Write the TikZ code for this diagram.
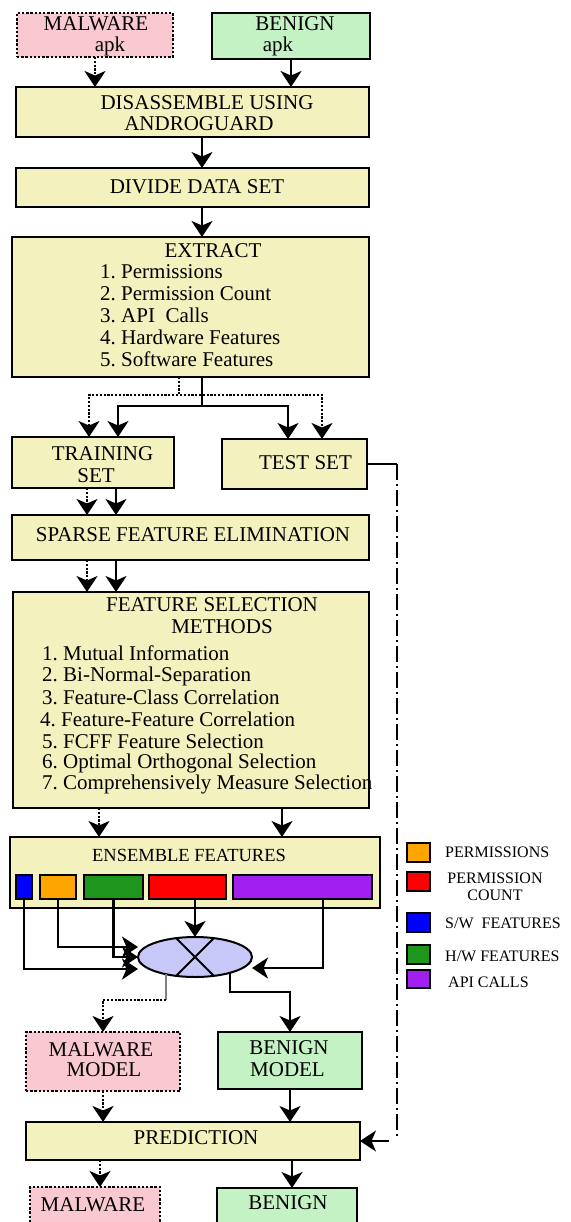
\documentclass[tikz,border=0pt]{standalone}
\usepackage{fontspec}
\setmainfont{Liberation Serif}
\usetikzlibrary{arrows.meta,shapes.geometric,calc}
\definecolor{yel}{RGB}{243,241,189}
\definecolor{pnk}{RGB}{250,200,208}
\definecolor{grn}{RGB}{196,242,196}
\definecolor{lav}{RGB}{200,200,248}
\definecolor{corange}{RGB}{255,165,0}
\definecolor{cred}{RGB}{255,0,0}
\definecolor{cblue}{RGB}{0,0,255}
\definecolor{cgreen}{RGB}{30,150,30}
\definecolor{cpurple}{RGB}{160,32,240}
\newcommand\mf{\fontsize{21}{22}\selectfont}
\newcommand\lf{\fontsize{16}{17}\selectfont}
\newcommand\ef{\fontsize{18.5}{20}\selectfont}
\begin{document}
\begin{tikzpicture}[x=1pt,y=-1pt,
  box/.style={draw, line width=2.2pt, inner sep=0pt, outer sep=0pt},
  ybox/.style={box, fill=yel},
  pbox/.style={box, fill=pnk, dash pattern=on 2.4pt off 1.8pt},
  gbox/.style={box, fill=grn},
  colbox/.style={draw, line width=2pt, inner sep=0pt, outer sep=0pt, minimum height=24pt},
  legbox/.style={draw, line width=1.8pt, inner sep=0pt, minimum width=23pt, minimum height=19pt},
  txt/.style={inner sep=0pt, font=\mf, align=center},
  itm/.style={inner sep=0pt, font=\mf, anchor=west},
  leg/.style={inner sep=0pt, font=\lf, anchor=west},
  arr/.style={line width=2.2pt, -{Stealth[length=16pt,width=21pt,inset=4.5pt]}},
  darr/.style={arr, dash pattern=on 2.2pt off 1.6pt},
  dashdotline/.style={line width=2pt, dash pattern=on 16pt off 4pt on 2pt off 4pt}
]
\useasboundingbox (0,0) rectangle (570,1222);
\fill[white] (0,0) rectangle (570,1222);
\clip (0,0) rectangle (570,1222);

% ---------- boxes ----------
\node[pbox, minimum width=156pt, minimum height=44pt] (mal) at (95,35) {};
\node[gbox, minimum width=158pt, minimum height=46pt] (ben) at (291,36) {};
\node[ybox, minimum width=353pt, minimum height=50pt] (dis) at (192.5,112) {};
\node[ybox, minimum width=353pt, minimum height=39pt] (div) at (192.5,187.5) {};
\node[ybox, minimum width=357pt, minimum height=140pt] (ext) at (190.5,307) {};
\node[ybox, minimum width=162pt, minimum height=51pt] (train) at (93,462.5) {};
\node[ybox, minimum width=145pt, minimum height=50pt] (test) at (294.5,464) {};
\node[ybox, minimum width=357pt, minimum height=45pt] (sparse) at (190.5,537.5) {};
\node[ybox, minimum width=356pt, minimum height=216pt] (fs) at (191,700) {};
\node[ybox, minimum width=370pt, minimum height=71pt] (ens) at (195,872.5) {};
\node[colbox, fill=cblue, minimum width=16pt] (fb) at (24,887) {};
\node[colbox, fill=corange, minimum width=36pt] (fo) at (58,887) {};
\node[colbox, fill=cgreen, minimum width=59pt] (fg) at (113.5,887) {};
\node[colbox, fill=cred, minimum width=77pt] (fr) at (187.5,887) {};
\node[colbox, fill=cpurple, minimum width=139pt] (fp) at (302.5,887) {};
\node[ellipse, draw, line width=2pt, fill=lav, minimum width=114pt, minimum height=40pt, inner sep=0pt, outer sep=0pt] (ell) at (195,957) {};
\draw[line width=2pt] (ell.135) -- (ell.315) (ell.45) -- (ell.225);
\node[pbox, minimum width=154pt, minimum height=59pt] (mm) at (103,1061.5) {};
\node[gbox, minimum width=144pt, minimum height=57pt] (bm) at (290,1060.5) {};
\node[ybox, minimum width=334pt, minimum height=38pt] (pred) at (193,1141) {};
\node[pbox, minimum width=130pt, minimum height=39pt] (mout) at (95,1206.5) {};
\node[gbox, minimum width=140pt, minimum height=38pt] (bout) at (287,1207) {};

% ---------- texts ----------
\node[txt] (tmal1) at (96,24) {MALWARE};
\node[txt] (tmal2) at (110,46) {apk};
\node[txt] (tben1) at (295,24) {BENIGN};
\node[txt] (tben2) at (278,46) {apk};
\node[txt] (tdis1) at (207,103) {DISASSEMBLE USING};
\node[txt] (tdis2) at (199,124) {ANDROGUARD};
\node[txt] (tdiv) at (197,187) {DIVIDE DATA SET};
\node[txt] (text0) at (213,251) {EXTRACT};
\node[itm] (text1) at (100,272) {1.\ Permissions};
\node[itm] (text2) at (100,294) {2.\ Permission Count};
\node[itm] (text3) at (100,315) {3.\ API\ \ Calls};
\node[itm] (text4) at (100,337) {4.\ Hardware Features};
\node[itm] (text5) at (100,359) {5.\ Software Features};
\node[txt] (ttrain1) at (102.5,454) {TRAINING};
\node[txt] (ttrain2) at (96,476) {SET};
\node[txt] (ttest) at (305.5,463) {TEST SET};
\node[txt] (tsparse) at (193,535) {SPARSE FEATURE ELIMINATION};
\node[txt] (tfs1) at (212,605) {FEATURE SELECTION};
\node[txt] (tfs2) at (222,627) {METHODS};
\node[itm] (tfsa) at (42,653) {1.\ Mutual Information};
\node[itm] (tfsb) at (42,676) {2.\ Bi-Normal-Separation};
\node[itm] (tfsc) at (42,697) {3.\ Feature-Class Correlation};
\node[itm] (tfsd) at (40,719) {4.\ Feature-Feature Correlation};
\node[itm] (tfse) at (42,741) {5.\ FCFF Feature Selection};
\node[itm] (tfsf) at (42,763) {6.\ Optimal Orthogonal Selection};
\node[itm] (tfsg) at (42,784) {7.\ Comprehensively Measure Selection};
\node[txt, font=\ef] (tens) at (189,855) {ENSEMBLE FEATURES};
\node[txt] (tmm1) at (101,1050) {MALWARE};
\node[txt] (tmm2) at (104,1070) {MODEL};
\node[txt] (tbm1) at (289,1048) {BENIGN};
\node[txt] (tbm2) at (287.5,1070) {MODEL};
\node[txt] (tpred) at (196,1138) {PREDICTION};
\node[txt] (tmout) at (93,1205) {MALWARE};
\node[txt] (tbout) at (288,1203) {BENIGN};

% ---------- legend ----------
\node[legbox, fill=corange] (lo) at (418.5,852.5) {};
\node[legbox, fill=cred] (lr) at (418.5,881.5) {};
\node[legbox, fill=cblue] (lb) at (418.5,922.5) {};
\node[legbox, fill=cgreen] (lg) at (418.5,954.5) {};
\node[legbox, fill=cpurple, minimum height=18pt] (lp) at (418.5,979) {};
\node[leg] (tlo) at (445,852) {PERMISSIONS};
\node[inner sep=0pt, font=\lf, align=center] (tlr) at (495,886.5) {PERMISSION\\COUNT};
\node[leg] (tlb) at (445,923) {S/W\ \ FEATURES};
\node[leg] (tlg) at (445,956) {H/W FEATURES};
\node[leg] (tlp) at (448,982) {API CALLS};

% ---------- guide coordinates ----------
\coordinate (xA) at (202,0);
\coordinate (xD) at (179,0);
\coordinate (jT1) at (118,406);
\coordinate (jT2) at (288,406);
\coordinate (jD1) at (89,395);
\coordinate (jD2) at (322,395);
\coordinate (xs1) at (87,0);
\coordinate (xs2) at (116,0);
\coordinate (xf1) at (99,0);
\coordinate (xf2) at (282,0);
\coordinate (xP) at (323,0);
\coordinate (g1) at (166,1000);
\coordinate (b1) at (0,992);
\coordinate (xM) at (100,0);
\coordinate (xB) at (292,0);
\coordinate (tc) at (397,464);

% ---------- connectors ----------
\draw[darr] (mal.south) -- (mal.south |- dis.north);
\draw[arr] (ben.south) -- (ben.south |- dis.north);
\draw[arr] (dis.south -| xA) -- (div.north -| xA);
\draw[arr] (div.south -| xA) -- (ext.north -| xA);
\draw[arr] (ext.south -| xA) |- (jT1) -- (jT1 |- train.north);
\draw[arr] (ext.south -| xA) |- (jT2) -- (jT2 |- test.north);
\draw[darr] (ext.south -| xD) |- (jD1) -- (jD1 |- train.north);
\draw[darr] (ext.south -| xD) |- (jD2) -- (jD2 |- test.north);
\draw[darr] (train.south -| xs1) -- (sparse.north -| xs1);
\draw[arr] (train.south -| xs2) -- (sparse.north -| xs2);
\draw[darr] (sparse.south -| xs1) -- (fs.north -| xs1);
\draw[arr] (sparse.south -| xs2) -- (fs.north -| xs2);
\draw[darr] (fs.south -| xf1) -- (ens.north -| xf1);
\draw[arr] (fs.south -| xf2) -- (ens.north -| xf2);
\draw[arr] (ell.north |- fr.south) -- (ell.north);
\draw[arr] (fo.south) |- ([yshift=10pt]ell.west);
\draw[arr] (fg.south) |- (ell.west);
\draw[arr] (fb.south) |- ([yshift=-12pt]ell.west);
\draw[arr] (fp.south -| xP) |- ([yshift=-11pt]ell.east);
\draw[line width=2pt, gray] (ell.211) -- (ell.211 |- g1);
\draw[darr] (ell.211 |- g1) -| (mm.north);
\draw[arr] (ell.336) -- (ell.336 |- b1) -| (bm.north);
\draw[darr] (mm.south) -- (mm.south |- pred.north);
\draw[arr] (bm.south) -- (bm.south |- pred.north);
\draw[darr] (pred.south -| xM) -- (mout.north -| xM);
\draw[arr] (pred.south -| xB) -- (bout.north -| xB);
\draw[line width=1.6pt] (test.east) -- (tc);
\draw[dashdotline] (tc) -- ([yshift=2pt]tc |- pred.east);
\draw[line width=1.8pt, -{Stealth[length=16pt,width=21pt,inset=4.5pt]}] ([xshift=-8pt]tc |- pred.east) -- (pred.east);
\end{tikzpicture}
\end{document}
